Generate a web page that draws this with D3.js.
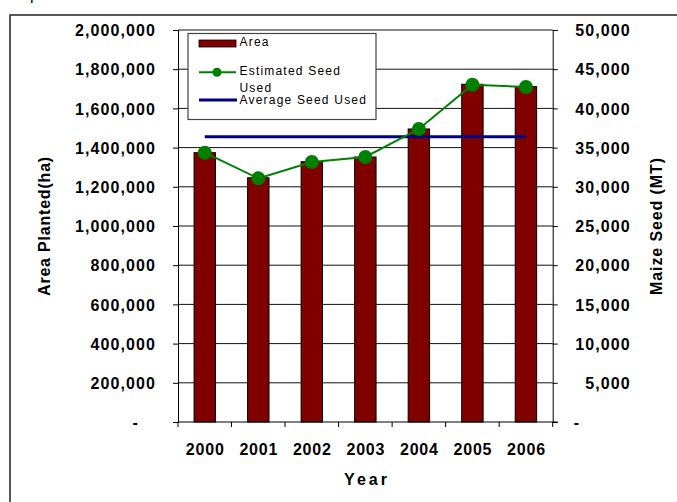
<!DOCTYPE html>
<html>
<head>
<meta charset="utf-8">
<script src="https://cdn.jsdelivr.net/npm/d3@7"></script>
<style>
  body { margin: 0; background: #fff; }
  svg text { font-family: "Liberation Sans", Arial, sans-serif; }
</style>
</head>
<body>
<div id="chart"></div>
<script>
// data
var years = ["2000", "2001", "2002", "2003", "2004", "2005", "2006"];
var areaPlanted = [1374000, 1246000, 1328000, 1352000, 1495000, 1723000, 1711000];
var seedUsed = [34350, 31080, 33160, 33800, 37370, 43020, 42730];
var avgSeed = 36390;
var leftTicks = [0, 200000, 400000, 600000, 800000, 1000000, 1200000, 1400000, 1600000, 1800000, 2000000];
var rightTicks = [0, 5000, 10000, 15000, 20000, 25000, 30000, 35000, 40000, 45000, 50000];

(function(){

var W = 677, H = 502;
// plot area edges (window.top is reserved, so use own names)
var pLeft = 178, pRight = 552.7, pTop = 30, pBottom = 422;

var svg = d3.select("#chart").append("svg")
	.attr("width", W)
	.attr("height", H);

// outer frame (runs past the page edge)
svg.append("rect")
	.attr("x", 10).attr("y", 15)
	.attr("width", 720).attr("height", 600)
	.attr("fill", "none")
	.attr("stroke", "#222")
	.attr("stroke-width", 1.5);

// cut-off caption fragment above the frame
svg.append("text")
	.attr("x", 30).attr("y", 0)
	.attr("font-size", 16)
	.text("p");

var x = d3.scaleBand().domain(years).range([pLeft, pRight]).paddingInner(0.6).paddingOuter(0.3);
var yL = d3.scaleLinear().domain([0, 2000000]).range([pBottom, pTop]);
var yR = d3.scaleLinear().domain([0, 50000]).range([pBottom, pTop]);
var fmt = d3.format(",");

// gridlines
svg.append("g").selectAll("line")
	.data(leftTicks.slice(1))
	.enter().append("line")
	.attr("x1", pLeft).attr("x2", pRight)
	.attr("y1", function(d) { return yL(d); })
	.attr("y2", function(d) { return yL(d); })
	.attr("stroke", "#111")
	.attr("stroke-width", 1);

// bars
svg.append("g").selectAll("rect")
	.data(areaPlanted)
	.enter().append("rect")
	.attr("x", function(d, i) { return x(years[i]); })
	.attr("y", function(d) { return yL(d); })
	.attr("width", x.bandwidth())
	.attr("height", function(d) { return yL(0) - yL(d); })
	.attr("fill", "#800000")
	.attr("stroke", "#000")
	.attr("stroke-width", 1);

// left axis
var axL = svg.append("g")
	.attr("transform", "translate(" + pLeft + ",0)")
	.call(d3.axisLeft(yL).tickValues(leftTicks).tickSize(5).tickPadding(17)
		.tickFormat(function(d) { return d === 0 ? "-" : fmt(d); }));
axL.selectAll("text").attr("font-size", 16).attr("font-weight", "bold")
	.attr("fill", "#000").attr("letter-spacing", 1.1).attr("dy", "0.36em")
	.attr("font-family", "Liberation Sans, Arial, sans-serif");
axL.selectAll(".tick").filter(function(d) { return d === 0; })
	.select("text").attr("x", -39);
axL.select(".domain").attr("stroke", "#000");
axL.selectAll(".tick line").attr("stroke", "#000");

// right axis
var axR = svg.append("g")
	.attr("transform", "translate(" + pRight + ",0)")
	.call(d3.axisRight(yR).tickValues(rightTicks).tickSize(5)
		.tickFormat(function(d) { return d === 0 ? "-" : fmt(d); }));
axR.selectAll("text").attr("font-size", 16).attr("font-weight", "bold")
	.attr("fill", "#000").attr("letter-spacing", 1.1).attr("dy", "0.36em")
	.attr("text-anchor", "end").attr("x", 78)
	.attr("font-family", "Liberation Sans, Arial, sans-serif");
axR.selectAll(".tick").filter(function(d) { return d === 0; })
	.select("text").attr("text-anchor", "start").attr("x", 21);
axR.select(".domain").attr("stroke", "#000");
axR.selectAll(".tick line").attr("stroke", "#000");

// x axis: line plus ticks between categories
var xg = svg.append("g");
xg.append("line")
	.attr("x1", pLeft).attr("x2", pRight + 5)
	.attr("y1", pBottom).attr("y2", pBottom)
	.attr("stroke", "#000");
xg.selectAll("line.tk")
	.data(d3.range(years.length + 1))
	.enter().append("line")
	.attr("class", "tk")
	.attr("x1", function(i) { return pLeft + i * x.step(); })
	.attr("x2", function(i) { return pLeft + i * x.step(); })
	.attr("y1", pBottom).attr("y2", pBottom + 5)
	.attr("stroke", "#000");
xg.selectAll("text")
	.data(years)
	.enter().append("text")
	.attr("x", function(d) { return x(d) + x.bandwidth() / 2 + 0.5; })
	.attr("y", 455)
	.attr("text-anchor", "middle")
	.attr("font-size", 16).attr("font-weight", "bold").attr("letter-spacing", 0.8)
	.text(function(d) { return d; });

// average seed line
svg.append("line")
	.attr("x1", x(years[0]) + x.bandwidth() / 2)
	.attr("x2", x(years[years.length - 1]) + x.bandwidth() / 2)
	.attr("y1", yR(avgSeed)).attr("y2", yR(avgSeed))
	.attr("stroke", "#000080")
	.attr("stroke-width", 3);

// estimated seed line + markers
var line = d3.line()
	.x(function(d, i) { return x(years[i]) + x.bandwidth() / 2; })
	.y(function(d) { return yR(d); });
svg.append("path")
	.datum(seedUsed)
	.attr("d", line)
	.attr("fill", "none")
	.attr("stroke", "#008000")
	.attr("stroke-width", 2);
svg.append("g").selectAll("circle")
	.data(seedUsed)
	.enter().append("circle")
	.attr("cx", function(d, i) { return x(years[i]) + x.bandwidth() / 2; })
	.attr("cy", function(d) { return yR(d); })
	.attr("r", 7)
	.attr("fill", "#008000");

// axis titles
svg.append("text")
	.attr("transform", "translate(50,226) rotate(-90)")
	.attr("text-anchor", "middle")
	.attr("font-size", 16).attr("font-weight", "bold").attr("letter-spacing", 0.8)
	.text("Area Planted(ha)");
svg.append("text")
	.attr("transform", "translate(662,226) rotate(-90)")
	.attr("text-anchor", "middle")
	.attr("font-size", 16).attr("font-weight", "bold").attr("letter-spacing", 0.9)
	.text("Maize Seed (MT)");
svg.append("text")
	.attr("x", 367).attr("y", 485)
	.attr("text-anchor", "middle")
	.attr("font-size", 16).attr("font-weight", "bold").attr("letter-spacing", 3)
	.text("Year");

// legend
var lg = svg.append("g");
lg.append("rect")
	.attr("x", 188).attr("y", 33.5)
	.attr("width", 188).attr("height", 86)
	.attr("fill", "#fff")
	.attr("stroke", "#444")
	.attr("stroke-width", 1.2);
lg.append("rect")
	.attr("x", 199).attr("y", 40)
	.attr("width", 37).attr("height", 7)
	.attr("fill", "#800000").attr("stroke", "#000").attr("stroke-width", 0.8);
lg.append("line")
	.attr("x1", 199).attr("x2", 236).attr("y1", 72.3).attr("y2", 72.3)
	.attr("stroke", "#008000").attr("stroke-width", 2);
lg.append("circle")
	.attr("cx", 217).attr("cy", 72.3).attr("r", 4.5)
	.attr("fill", "#008000");
lg.append("line")
	.attr("x1", 199).attr("x2", 237).attr("y1", 100).attr("y2", 100)
	.attr("stroke", "#000080").attr("stroke-width", 3);
var legTexts = [["Area", 46], ["Estimated Seed", 75.3], ["Used", 92], ["Average Seed Used", 104]];
lg.selectAll("text.lt")
	.data(legTexts)
	.enter().append("text")
	.attr("class", "lt")
	.attr("x", 239.5)
	.attr("y", function(d) { return d[1]; })
	.attr("font-size", 12).attr("letter-spacing", 1.2)
	.text(function(d) { return d[0]; });

})();
</script>
</body>
</html>
